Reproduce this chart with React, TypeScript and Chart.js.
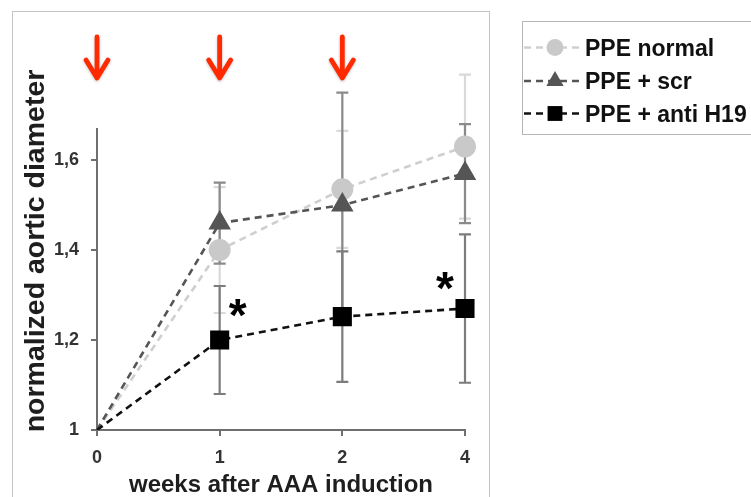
import React, { useEffect, useRef } from "react";
import { Chart, registerables } from "chart.js";

Chart.register(...registerables);

// ---------- data ----------
const weeks = ["0", "1", "2", "4"];
const seriesNames = ["PPE normal", "PPE + scr", "PPE + anti H19"];
const ppeNormal = [1, 1.4, 1.535, 1.63];
const ppeNormalErr = [0, 0.14, 0.13, 0.16];
const ppeScr = [1, 1.46, 1.5, 1.57];
const ppeScrErr = [0, 0.09, 0.25, 0.11];
const ppeAnti = [1, 1.2, 1.252, 1.27];
const ppeAntiErr = [0, 0.12, 0.145, 0.165];
const yTicks = [1, 1.2, 1.4, 1.6];
const arrowWeeks = ["0", "1", "2"];
const significantWeeks = ["1", "4"];

const FONT = '"Liberation Sans", Arial, Helvetica, sans-serif';

const errSets = [ppeNormalErr, ppeScrErr, ppeAntiErr];
const errColors = ["#d9d9d9", "#8a8a8a", "#7c7c7c"];
const lineColors = ["#cfcfcf", "#555555", "#111111"];
const markerColors = ["#c9c9c9", "#555555", "#000000"];
const markerStyles = ["circle", "triangle", "rect"];

function drawMarker(ctx: CanvasRenderingContext2D, style: string, x: number, y: number, r: number, color: string) {
  ctx.save();
  ctx.fillStyle = color;
  ctx.beginPath();
  if (style === "circle") {
    ctx.arc(x, y, r, 0, Math.PI * 2);
  } else if (style === "triangle") {
    ctx.moveTo(x, y - r);
    ctx.lineTo(x + r * 0.866, y + r * 0.5);
    ctx.lineTo(x - r * 0.866, y + r * 0.5);
    ctx.closePath();
  } else {
    ctx.rect(x - r * 0.707, y - r * 0.707, r * 1.414, r * 1.414);
  }
  ctx.fill();
  ctx.restore();
}

const decorPlugin = {
  id: "decor",
  beforeDraw(chart: any) {
    const ctx = chart.ctx as CanvasRenderingContext2D;
    ctx.save();
    ctx.fillStyle = "#ffffff";
    ctx.fillRect(0, 0, chart.width, chart.height);
    ctx.strokeStyle = "#c4c4c4";
    ctx.lineWidth = 1;
    ctx.strokeRect(12.5, 11.5, 477, 520);
    ctx.restore();
  },
  beforeDatasetsDraw(chart: any) {
    const ctx = chart.ctx as CanvasRenderingContext2D;
    const xs = chart.scales.x;
    const ys = chart.scales.y;
    ctx.save();
    chart.data.datasets.forEach((ds: any, i: number) => {
      const errs = errSets[i];
      ctx.strokeStyle = errColors[i];
      ctx.lineWidth = 2.2;
      ds.data.forEach((v: number, j: number) => {
        const e = errs[j];
        if (!e) return;
        const x = xs.getPixelForValue(j);
        const yt = ys.getPixelForValue(v + e);
        const yb = ys.getPixelForValue(v - e);
        ctx.beginPath();
        ctx.moveTo(x, yt);
        ctx.lineTo(x, yb);
        ctx.moveTo(x - 6, yt);
        ctx.lineTo(x + 6, yt);
        ctx.moveTo(x - 6, yb);
        ctx.lineTo(x + 6, yb);
        ctx.stroke();
      });
    });
    ctx.restore();
  },
  afterDraw(chart: any) {
    const ctx = chart.ctx as CanvasRenderingContext2D;
    const xs = chart.scales.x;
    const ys = chart.scales.y;
    const area = chart.chartArea;

    // red arrows
    ctx.save();
    ctx.strokeStyle = "#ff2a00";
    ctx.lineWidth = 4.8;
    ctx.lineCap = "round";
    ctx.lineJoin = "round";
    ctx.shadowColor = "rgba(0,0,0,0.25)";
    ctx.shadowBlur = 3;
    ctx.shadowOffsetY = 1;
    arrowWeeks.forEach((w) => {
      const x = xs.getPixelForValue(weeks.indexOf(w));
      ctx.beginPath();
      ctx.moveTo(x, 37);
      ctx.lineTo(x, 78);
      ctx.moveTo(x - 11, 60);
      ctx.lineTo(x, 78);
      ctx.lineTo(x + 11, 60);
      ctx.stroke();
    });
    ctx.restore();

    // asterisks
    ctx.save();
    ctx.fillStyle = "#000";
    ctx.font = `bold 46px ${FONT}`;
    ctx.textAlign = "center";
    ctx.textBaseline = "alphabetic";
    const anti = chart.data.datasets[2].data;
    significantWeeks.forEach((w) => {
      const j = weeks.indexOf(w);
      const x = xs.getPixelForValue(j);
      const y = ys.getPixelForValue(anti[j]);
      const last = j === weeks.length - 1;
      const cx = last ? x - 20 : x + 18;
      const cy = last ? y - 30 : y - 34;
      ctx.fillText("*", cx, cy + 25);
    });
    ctx.restore();

    // axis titles
    ctx.save();
    ctx.fillStyle = "#1e1e1e";
    ctx.font = `bold 28.5px ${FONT}`;
    ctx.textAlign = "center";
    ctx.textBaseline = "alphabetic";
    ctx.translate(44, 251);
    ctx.rotate(-Math.PI / 2);
    ctx.fillText("normalized aortic diameter", 0, 0);
    ctx.restore();

    ctx.save();
    ctx.fillStyle = "#1e1e1e";
    ctx.font = `bold 24px ${FONT}`;
    ctx.textAlign = "center";
    ctx.textBaseline = "alphabetic";
    ctx.fillText("weeks after AAA induction", (area.left + area.right) / 2, 492);
    ctx.restore();

    // legend
    ctx.save();
    ctx.strokeStyle = "#b5b5b5";
    ctx.lineWidth = 1;
    ctx.strokeRect(522.5, 21.5, 260, 113);
    const rows = [47.5, 81, 113.5];
    seriesNames.forEach((name, i) => {
      const y = rows[i];
      ctx.save();
      ctx.strokeStyle = lineColors[i];
      ctx.lineWidth = 2.5;
      ctx.setLineDash([7, 5]);
      ctx.beginPath();
      ctx.moveTo(524, y);
      ctx.lineTo(584, y);
      ctx.stroke();
      ctx.restore();
      drawMarker(ctx, markerStyles[i], 555, y, i === 1 ? 10 : i === 2 ? 10.5 : 8.5, markerColors[i]);
      ctx.fillStyle = "#111";
      ctx.font = `bold 23px ${FONT}`;
      ctx.textAlign = "left";
      ctx.textBaseline = "alphabetic";
      ctx.fillText(name, 585, y + 8);
    });
    ctx.restore();
  },
};

export default function App() {
  const ref = useRef<HTMLCanvasElement | null>(null);

  useEffect(() => {
    if (!ref.current) return;
    const mk = (i: number, data: number[], radius: number) => ({
      label: seriesNames[i],
      data,
      borderColor: lineColors[i],
      backgroundColor: markerColors[i],
      borderWidth: 2.6,
      borderDash: [7, 5],
      pointStyle: markerStyles[i],
      pointRadius: data.map((_, j) => (j === 0 ? 0 : radius)),
      pointBorderWidth: 0,
      pointBackgroundColor: markerColors[i],
      pointBorderColor: markerColors[i],
      tension: 0,
      order: 3 - i,
    });
    const chart = new Chart(ref.current, {
      type: "line",
      data: {
        labels: weeks,
        datasets: [mk(0, ppeNormal, 11), mk(1, ppeScr, 13), mk(2, ppeAnti, 13.5)],
      },
      options: {
        responsive: false,
        animation: false,
        devicePixelRatio: 1,
        layout: { padding: { left: 12, top: 129, right: 286, bottom: 0 } },
        plugins: { legend: { display: false }, tooltip: { enabled: false } },
        scales: {
          x: {
            type: "category",
            offset: false,
            grid: { display: true, drawOnChartArea: false, tickLength: 6, color: "#6f6f6f", lineWidth: 2 },
            border: { color: "#6f6f6f", width: 2 },
            ticks: { color: "#333", font: { family: FONT, size: 18, weight: "bold" }, padding: 11 },
            afterFit: (s: any) => {
              s.height = 67;
            },
          },
          y: {
            type: "linear",
            min: 1,
            max: 1.669,
            grid: { display: true, drawOnChartArea: false, tickLength: 6, color: "#6f6f6f", lineWidth: 2 },
            border: { color: "#6f6f6f", width: 2 },
            afterBuildTicks: (s: any) => {
              s.ticks = yTicks.map((v) => ({ value: v }));
            },
            ticks: {
              color: "#333",
              font: { family: FONT, size: 18, weight: "bold" },
              padding: 12,
              callback: (v: any) => String(Math.round(Number(v) * 10) / 10).replace(".", ","),
            },
            afterFit: (s: any) => {
              s.width = 85;
            },
          },
        },
      },
      plugins: [decorPlugin],
    } as any);
    return () => chart.destroy();
  }, []);

  return (
    <div style={{ position: "fixed", left: 0, top: 0, width: 751, height: 497, background: "#fff" }}>
      <canvas ref={ref} width={751} height={497} style={{ display: "block" }} />
    </div>
  );
}
